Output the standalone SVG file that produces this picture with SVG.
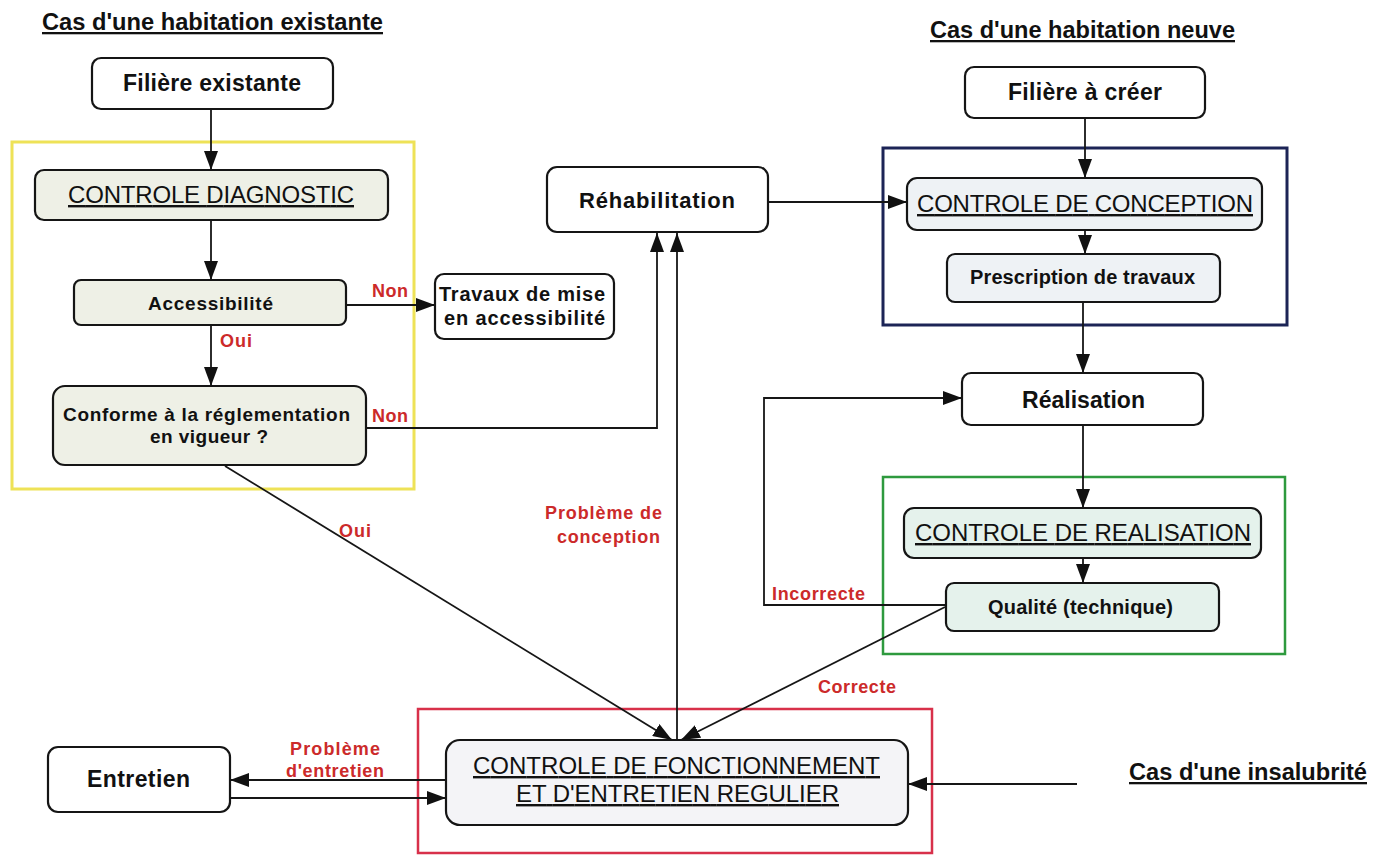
<svg xmlns="http://www.w3.org/2000/svg" width="1384" height="856" viewBox="0 0 1384 856">
<defs>
<marker id="ah" viewBox="0 0 19 14" refX="19" refY="7" markerWidth="19" markerHeight="14" orient="auto" markerUnits="userSpaceOnUse"><path d="M0,0 L19,7 L0,14 z" fill="#111"/></marker>
<style>
text{font-family:"Liberation Sans",Arial,sans-serif;fill:#111}
.t{font-weight:bold;font-size:23px;text-decoration:underline}
.n{font-size:23px;font-weight:bold;text-anchor:middle}
.s{font-size:19px;font-weight:bold;text-anchor:middle}
.c{font-size:24px;text-anchor:middle;text-decoration:underline}
.r{font-size:18px;font-weight:bold;fill:#cc2a2a}
.box{stroke:#151515;stroke-width:2.2}
.w{fill:#ffffff}
.g{fill:#eef0e6}
.bl{fill:#eef2f5}
.gr{fill:#e5f2ec}
.f{fill:#f4f4f7}
.frame{fill:none}
.cn{fill:none;stroke:#161616;stroke-width:1.8}
.a{marker-end:url(#ah)}
</style>
</defs>
<rect width="1384" height="856" fill="#ffffff"/>

<g id="frames">
<rect class="frame" x="12" y="142" width="402" height="347" stroke="#eee257" stroke-width="3"/>
<rect class="frame" x="883" y="148" width="404" height="177" stroke="#1c2456" stroke-width="3"/>
<rect class="frame" x="883" y="477" width="402" height="177" stroke="#2e9a3e" stroke-width="2.5"/>
<rect class="frame" x="418" y="709" width="514" height="144" stroke="#d8304a" stroke-width="2.5"/>
</g>

<g id="titles">
<text class="t" x="42" y="30" textLength="341" lengthAdjust="spacingAndGlyphs">Cas d'une habitation existante</text>
<text class="t" x="930" y="38" textLength="305" lengthAdjust="spacingAndGlyphs">Cas d'une habitation neuve</text>
<text class="t" x="1129" y="780" textLength="238" lengthAdjust="spacingAndGlyphs">Cas d'une insalubrité</text>
</g>

<g id="connectors">
<line class="cn a" x1="211" y1="109" x2="211" y2="170"/>
<line class="cn a" x1="211" y1="220" x2="211" y2="280"/>
<line class="cn a" x1="211" y1="325" x2="211" y2="386"/>
<line class="cn a" x1="346" y1="305" x2="435" y2="305"/>
<polyline class="cn a" points="366,428 657,428 657,233"/>
<line class="cn a" x1="225" y1="466" x2="672" y2="740"/>
<line class="cn a" x1="677" y1="740" x2="677" y2="233"/>
<line class="cn a" x1="945" y1="607" x2="681" y2="740"/>
<polyline class="cn a" points="945,605 764,605 764,398 962,398"/>
<line class="cn a" x1="768" y1="202" x2="907" y2="202"/>
<line class="cn a" x1="1085" y1="118" x2="1085" y2="178"/>
<line class="cn a" x1="1085" y1="230" x2="1085" y2="254"/>
<line class="cn a" x1="1083" y1="302" x2="1083" y2="373"/>
<line class="cn a" x1="1083" y1="425" x2="1083" y2="508"/>
<line class="cn a" x1="1083" y1="558" x2="1083" y2="583"/>
<line class="cn a" x1="446" y1="780" x2="230" y2="780"/>
<line class="cn a" x1="230" y1="798" x2="446" y2="798"/>
<line class="cn a" x1="1077" y1="784" x2="908" y2="784"/>
</g>

<g id="labels">
<text class="r" x="372" y="297" textLength="36">Non</text>
<text class="r" x="220" y="347" textLength="32">Oui</text>
<text class="r" x="372" y="422" textLength="36">Non</text>
<text class="r" x="339" y="537" textLength="32">Oui</text>
<text class="r" x="662" y="519" text-anchor="end" textLength="117">Problème de</text>
<text class="r" x="660" y="543" text-anchor="end" textLength="103">conception</text>
<text class="r" x="772" y="600" textLength="93">Incorrecte</text>
<text class="r" x="818" y="693" textLength="78">Correcte</text>
<text class="r" x="335" y="755" text-anchor="middle" textLength="90">Problème</text>
<text class="r" x="335" y="777" text-anchor="middle" textLength="98">d'entretien</text>
</g>

<g id="filiere-existante">
<rect class="box w" x="92" y="58" width="241" height="51" rx="9"/>
<text class="n" x="212" y="91" textLength="178">Filière existante</text>
</g>
<g id="controle-diagnostic">
<rect class="box g" x="35" y="170" width="353" height="50" rx="9"/>
<text class="c" x="211" y="203" textLength="286">CONTROLE DIAGNOSTIC</text>
</g>
<g id="accessibilite">
<rect class="box g" x="74" y="280" width="272" height="45" rx="7"/>
<text class="s" x="210.5" y="310" textLength="125">Accessibilité</text>
</g>
<g id="conforme">
<rect class="box g" x="53" y="386" width="313" height="79" rx="12"/>
<text class="s" x="206.5" y="421" textLength="287">Conforme à la réglementation</text>
<text class="s" x="209" y="443" textLength="118">en vigueur ?</text>
</g>
<g id="travaux">
<rect class="box w" x="435" y="274" width="179" height="65" rx="9"/>
<text class="s" x="522" y="301" textLength="166" style="font-size:20px">Travaux de mise</text>
<text class="s" x="524.5" y="325" textLength="161" style="font-size:20px">en accessibilité</text>
</g>
<g id="rehabilitation">
<rect class="box w" x="547" y="167" width="221" height="65" rx="10"/>
<text class="n" x="657" y="208" textLength="156" style="font-size:22px">Réhabilitation</text>
</g>
<g id="filiere-a-creer">
<rect class="box w" x="965" y="67" width="240" height="51" rx="9"/>
<text class="n" x="1085" y="100" textLength="154">Filière à créer</text>
</g>
<g id="controle-conception">
<rect class="box bl" x="907" y="178" width="355" height="52" rx="10"/>
<text class="c" x="1085" y="212" textLength="336">CONTROLE DE CONCEPTION</text>
</g>
<g id="prescription">
<rect class="box bl" x="947" y="254" width="273" height="48" rx="8"/>
<text class="s" x="1082.5" y="284" textLength="225" style="font-size:20px">Prescription de travaux</text>
</g>
<g id="realisation">
<rect class="box w" x="962" y="373" width="241" height="52" rx="9"/>
<text class="n" x="1083.5" y="408" textLength="123">Réalisation</text>
</g>
<g id="controle-realisation">
<rect class="box gr" x="904" y="508" width="357" height="50" rx="10"/>
<text class="c" x="1083" y="541" textLength="336">CONTROLE DE REALISATION</text>
</g>
<g id="qualite">
<rect class="box gr" x="946" y="583" width="273" height="48" rx="8"/>
<text class="s" x="1080.5" y="614" textLength="185" style="font-size:20px">Qualité (technique)</text>
</g>
<g id="controle-fonctionnement">
<rect class="box f" x="446" y="740" width="462" height="85" rx="14"/>
<text class="c" x="676.5" y="774" textLength="407">CONTROLE DE FONCTIONNEMENT</text>
<text class="c" x="677.5" y="802" textLength="323">ET D'ENTRETIEN REGULIER</text>
</g>
<g id="entretien">
<rect class="box w" x="48" y="747" width="182" height="65" rx="10"/>
<text class="n" x="138.5" y="787" textLength="103">Entretien</text>
</g>
</svg>
